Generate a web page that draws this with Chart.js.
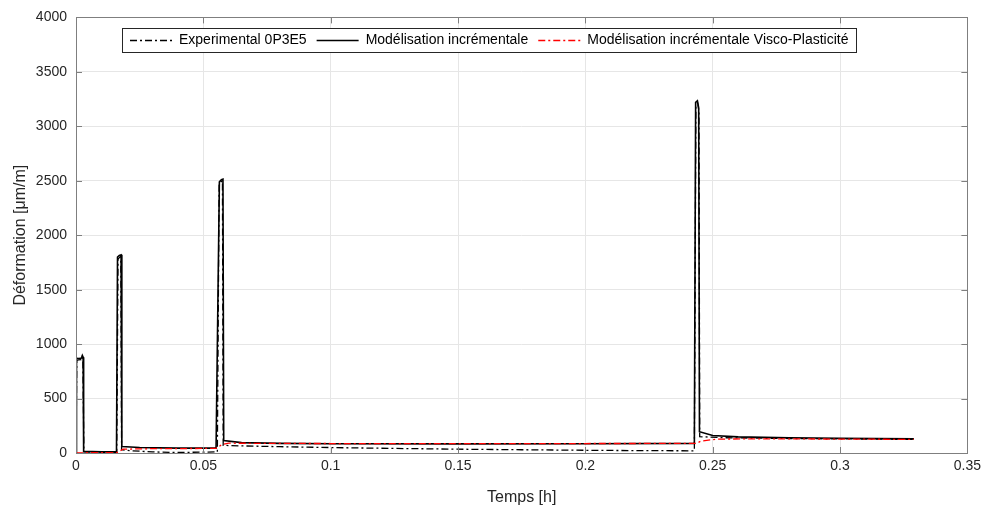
<!DOCTYPE html>
<html>
<head>
<meta charset="utf-8">
<script src="https://cdn.jsdelivr.net/npm/chart.js@4/dist/chart.umd.min.js"></script>
<style>
html,body{margin:0;padding:0;background:#fff;}
#wrap{width:986px;height:507px;position:relative;}
</style>
</head>
<body>
<div id="wrap"><canvas id="c" width="986" height="507"></canvas></div>
<script>
// ---- Data ----
const seriesLabels = ["Experimental 0P3E5", "Modélisation incrémentale", "Modélisation incrémentale Visco-Plasticité"];

const expTime = [0, 0.0003, 0.0010, 0.0020, 0.0024, 0.0027, 0.0031, 0.008, 0.012, 0.0160, 0.0165, 0.0172, 0.0176, 0.0179, 0.022, 0.03, 0.04, 0.05, 0.0555, 0.0562, 0.0570, 0.0575, 0.0578, 0.065, 0.08, 0.1, 0.125, 0.15, 0.175, 0.2, 0.22, 0.2428, 0.2434, 0.2441, 0.2446, 0.2449, 0.255, 0.28, 0.3, 0.329];
const expValues = [0, 850, 855, 858, 885, 860, 10, 8, 5, 5, 1780, 1800, 1805, 30, 20, 10, 5, 8, 10, 2460, 2490, 2500, 70, 65, 58, 50, 42, 35, 30, 25, 22, 20, 3180, 3210, 3140, 150, 140, 133, 130, 125];

const modTime = [0, 0.0002, 0.0012, 0.0022, 0.0025, 0.0028, 0.0030, 0.01, 0.0159, 0.0163, 0.0170, 0.0177, 0.0180, 0.025, 0.04, 0.055, 0.0563, 0.0571, 0.0577, 0.0580, 0.065, 0.08, 0.1, 0.15, 0.2, 0.2428, 0.2433, 0.2440, 0.2445, 0.2448, 0.25, 0.26, 0.28, 0.3, 0.329];
const modValues = [0, 870, 868, 872, 895, 880, 15, 12, 12, 1800, 1815, 1820, 60, 50, 45, 45, 2490, 2510, 2515, 115, 95, 88, 85, 84, 85, 88, 3220, 3235, 3170, 195, 160, 148, 140, 135, 130];

const viscoTime = [0, 0.003, 0.016, 0.0185, 0.03, 0.055, 0.0575, 0.06, 0.08, 0.1, 0.15, 0.2, 0.2435, 0.2455, 0.252, 0.27, 0.3, 0.329];
const viscoValues = [0, 2, 3, 35, 40, 42, 80, 90, 88, 87, 87, 87, 88, 110, 128, 130, 128, 125];

const xTickLabels = ["0", "0.05", "0.1", "0.15", "0.2", "0.25", "0.3", "0.35"];
const yTickLabels = ["0", "500", "1000", "1500", "2000", "2500", "3000", "3500", "4000"];
const xTitle = "Temps [h]";
const yTitle = "Déformation [μm/m]";

// ---- Build ----
function pts(t, v) { return t.map((x, i) => ({ x: x, y: v[i] })); }

const FONT = "'Liberation Sans', Arial, sans-serif";
const TXT = '#262626';

const boxPlugin = {
  id: 'matlabBox',
  afterDatasetsDraw(chart) {
    const { ctx, chartArea: a, scales } = chart;
    ctx.save();
    ctx.strokeStyle = '#7f7f7f';
    ctx.lineWidth = 1;
    ctx.setLineDash([]);
    ctx.strokeRect(Math.round(a.left) + 0.5, Math.round(a.top) + 0.5, Math.round(a.right - a.left), Math.round(a.bottom - a.top));
    const L = 6;
    ctx.beginPath();
    scales.x.ticks.forEach(t => {
      const px = Math.round(scales.x.getPixelForValue(t.value)) + 0.5;
      ctx.moveTo(px, a.bottom); ctx.lineTo(px, a.bottom - L);
      ctx.moveTo(px, a.top); ctx.lineTo(px, a.top + L);
    });
    scales.y.ticks.forEach(t => {
      const py = Math.round(scales.y.getPixelForValue(t.value)) + 0.5;
      ctx.moveTo(a.left, py); ctx.lineTo(a.left + L, py);
      ctx.moveTo(a.right, py); ctx.lineTo(a.right - L, py);
    });
    ctx.stroke();
    ctx.restore();
  }
};

const legendPlugin = {
  id: 'matlabLegend',
  afterDraw(chart) {
    const { ctx } = chart;
    const ds = chart.data.datasets;
    ctx.save();
    ctx.font = '14px ' + FONT;
    const sample = 42, gapS = 7, gapI = 10, pad = 8;
    const widths = ds.map(d => ctx.measureText(d.label).width);
    let total = pad * 2;
    widths.forEach((w, i) => { total += sample + gapS + w + (i < widths.length - 1 ? gapI : 0); });
    const left = 122, top = 28, h = 24;
    ctx.fillStyle = '#fff';
    ctx.fillRect(left, top, total, h);
    ctx.strokeStyle = '#262626';
    ctx.lineWidth = 1;
    ctx.strokeRect(left + 0.5, top + 0.5, Math.round(total), h);
    let x = left + pad;
    const cy = top + h / 2 + 0.5;
    ds.forEach((d, i) => {
      ctx.beginPath();
      ctx.strokeStyle = d.borderColor;
      ctx.lineWidth = d.borderWidth;
      ctx.setLineDash(d.borderDash || []);
      ctx.moveTo(x, cy); ctx.lineTo(x + sample, cy);
      ctx.stroke();
      ctx.setLineDash([]);
      x += sample + gapS;
      ctx.fillStyle = '#000';
      ctx.textBaseline = 'middle';
      ctx.textAlign = 'left';
      ctx.fillText(d.label, x, cy);
      x += widths[i] + gapI;
    });
    ctx.restore();
  }
};

new Chart(document.getElementById('c'), {
  type: 'line',
  data: {
    datasets: [
      { label: seriesLabels[0], data: pts(expTime, expValues), borderColor: '#000000', borderWidth: 1.3, borderDash: [7, 3, 2, 3], order: 1 },
      { label: seriesLabels[1], data: pts(modTime, modValues), borderColor: '#000000', borderWidth: 1.6, borderDash: [], order: 2 },
      { label: seriesLabels[2], data: pts(viscoTime, viscoValues), borderColor: '#ff0000', borderWidth: 1.3, borderDash: [7, 3, 2, 3], order: 0 }
    ]
  },
  options: {
    responsive: false,
    animation: false,
    layout: { padding: { top: 15, right: 18, bottom: 0, left: 0 } },
    elements: { point: { radius: 0 }, line: { tension: 0, fill: false } },
    plugins: { legend: { display: false }, tooltip: { enabled: false } },
    scales: {
      x: {
        type: 'linear', min: 0, max: 0.35,
        afterBuildTicks(s) { s.ticks = xTickLabels.map(v => ({ value: parseFloat(v) })); },
        ticks: { callback: (v, i) => xTickLabels[i], color: TXT, font: { family: FONT, size: 14 }, padding: 5, maxRotation: 0 },
        grid: { color: '#e6e6e6', drawTicks: false },
        border: { display: false },
        title: { display: true, text: xTitle, color: TXT, font: { family: FONT, size: 16 }, padding: { top: 1, bottom: 0 } },
        afterFit(s) { s.height = 54; }
      },
      y: {
        type: 'linear', min: 0, max: 4000,
        afterBuildTicks(s) { s.ticks = yTickLabels.map(v => ({ value: parseFloat(v) })); },
        ticks: { callback: (v, i) => yTickLabels[i], color: TXT, font: { family: FONT, size: 14 }, padding: 9 },
        grid: { color: '#e6e6e6', drawTicks: false },
        border: { display: false },
        title: { display: true, text: yTitle, color: TXT, font: { family: FONT, size: 16 }, padding: { top: 11, bottom: 0 } },
        afterFit(s) { s.width = 76; }
      }
    }
  },
  plugins: [boxPlugin, legendPlugin]
});
</script>
</body>
</html>
